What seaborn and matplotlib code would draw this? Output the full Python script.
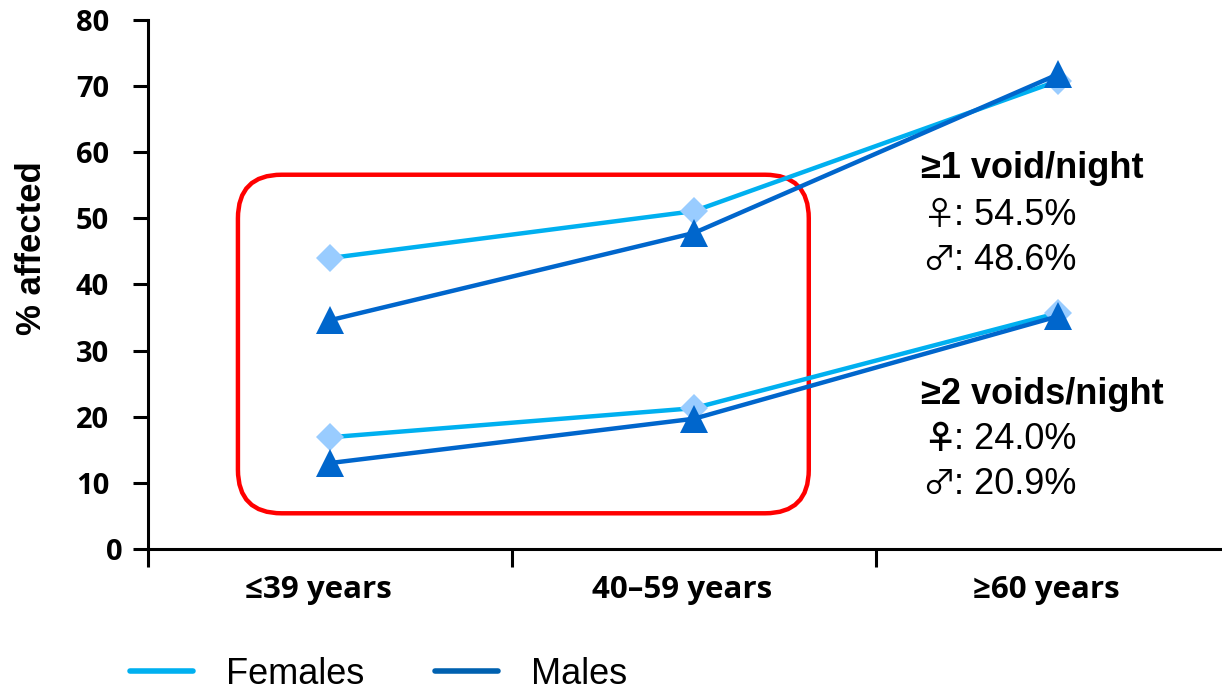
import matplotlib
matplotlib.use("Agg")
import matplotlib.pyplot as plt
import matplotlib.transforms as mtrans
import seaborn as sns
import pandas as pd
from matplotlib.patches import FancyBboxPatch
from matplotlib.lines import Line2D

sns.set_theme(style="white")
plt.rcParams['font.family'] = ['Liberation Sans', 'DejaVu Sans']
for k in ["text.color", "axes.labelcolor", "xtick.color", "ytick.color"]:
    plt.rcParams[k] = "black"

# ---- data ----
categories = ["≤39 years", "40–59 years", "≥60 years"]
females_1 = [44.0, 51.1, 70.8]
males_1 = [34.6, 47.8, 71.8]
females_2 = [16.9, 21.3, 35.7]
males_2 = [13.0, 19.7, 35.2]
y_ticks = [0, 10, 20, 30, 40, 50, 60, 70, 80]
headings = ["≥1 void/night", "≥2 voids/night"]
female_pct = ["54.5%", "24.0%"]
male_pct = ["48.6%", "20.9%"]
legend_labels = ["Females", "Males"]

F_LINE = "#00B0F0"
F_MARK = "#99CCFF"
M_LINE = "#0066CC"
M_LEG = "#0061B0"
TICK_FONT = ['Open Sans', 'DejaVu Sans']
SYM_FONT = ['Noto Sans CJK JP', 'DejaVu Sans']

pos = list(range(len(categories)))

fig = plt.figure(figsize=(12.22, 6.90), dpi=100)
ax = fig.add_axes([148/1222, 141/690, 1 - 148/1222, (549-20)/690])

series = [
    (females_1, F_LINE, "D", F_MARK, 14),
    (females_2, F_LINE, "D", F_MARK, 14),
    (males_1, M_LINE, "^", M_LINE, 20),
    (males_2, M_LINE, "^", M_LINE, 20),
]
for vals, lc, mk, mc, ms in series:
    df = pd.DataFrame({"x": pos, "y": vals})
    sns.lineplot(data=df, x="x", y="y", ax=ax, color=lc, lw=3.2,
                 marker=mk, markersize=ms, markerfacecolor=mc,
                 markeredgecolor=mc, markeredgewidth=0)

ax.set_xlim(-0.5, 2.45)
ax.set_ylim(0, 80)

# red rounded box
x0, x1 = -0.253, 1.315
y0, y1 = 5.4, 56.6
box = FancyBboxPatch((x0, y0), x1 - x0, y1 - y0,
                     boxstyle="round,pad=0,rounding_size=0.12",
                     mutation_aspect=55, fill=False, ec="#FF0000", lw=3.2,
                     zorder=1)
ax.add_patch(box)

# axes styling
for s in ["top", "right"]:
    ax.spines[s].set_visible(False)
for s in ["left", "bottom"]:
    ax.spines[s].set_color("black")
    ax.spines[s].set_linewidth(2.2)

ax.set_yticks(y_ticks)
ax.set_yticklabels([str(v) for v in y_ticks], fontsize=21, fontweight="bold",
                   family=TICK_FONT)
ax.tick_params(axis="y", direction="out", length=11, width=2.2, color="black", pad=17, left=True)
# the "0" label sits closer to the axis in the reference
zero_lbl = ax.get_yticklabels()[0]
zero_lbl.set_transform(zero_lbl.get_transform() +
                       mtrans.ScaledTranslation(0.14, 0, fig.dpi_scale_trans))

ax.set_xticks([-0.5, 0.5, 1.5])
ax.set_xticklabels([])
ax.set_xticks(pos, minor=True)
ax.set_xticklabels(categories, minor=True, fontsize=22.5, fontweight="bold",
                   family=TICK_FONT)
ax.tick_params(axis="x", which="major", direction="out", length=13, width=2.2, color="black", bottom=True)
ax.tick_params(axis="x", which="minor", length=0, pad=19, bottom=True)
for lbl in ax.get_xticklabels(minor=True):
    lbl.set_transform(lbl.get_transform() +
                      mtrans.ScaledTranslation(-0.12, 0, fig.dpi_scale_trans))

ax.set_xlabel("")
ax.set_ylabel("% affected", fontsize=25, fontweight="bold")
ax.yaxis.set_label_coords(-0.093, 0.569)
ax.grid(False)

# annotations
head_y = [57.6, 23.3]
fem_y = [50.5, 16.5]
mal_y = [43.7, 9.7]
fem_w = ["normal", "bold"]
for i in range(2):
    ax.text(1.623, head_y[i], headings[i], fontsize=26, fontweight="bold",
            va="center", ha="left")
    ax.text(1.630, fem_y[i], "♀", fontsize=24, fontweight=fem_w[i],
            va="center", ha="left", family=SYM_FONT)
    ax.text(1.714, fem_y[i], ": " + female_pct[i], fontsize=26,
            va="center", ha="left")
    ax.text(1.626, mal_y[i], "♂", fontsize=24,
            va="center", ha="left", family=SYM_FONT)
    ax.text(1.714, mal_y[i], ": " + male_pct[i], fontsize=26,
            va="center", ha="left")

handles = [Line2D([], [], color=F_LINE, lw=4), Line2D([], [], color=M_LEG, lw=4)]
fig.legend(handles, legend_labels, loc="center left",
           bbox_to_anchor=(130/1222, 1 - 674/690), ncol=2, frameon=False,
           fontsize=26, handlelength=1.75, handletextpad=0.92, columnspacing=1.94,
           borderpad=0, borderaxespad=0)

fig.savefig("out.png", dpi=100)
